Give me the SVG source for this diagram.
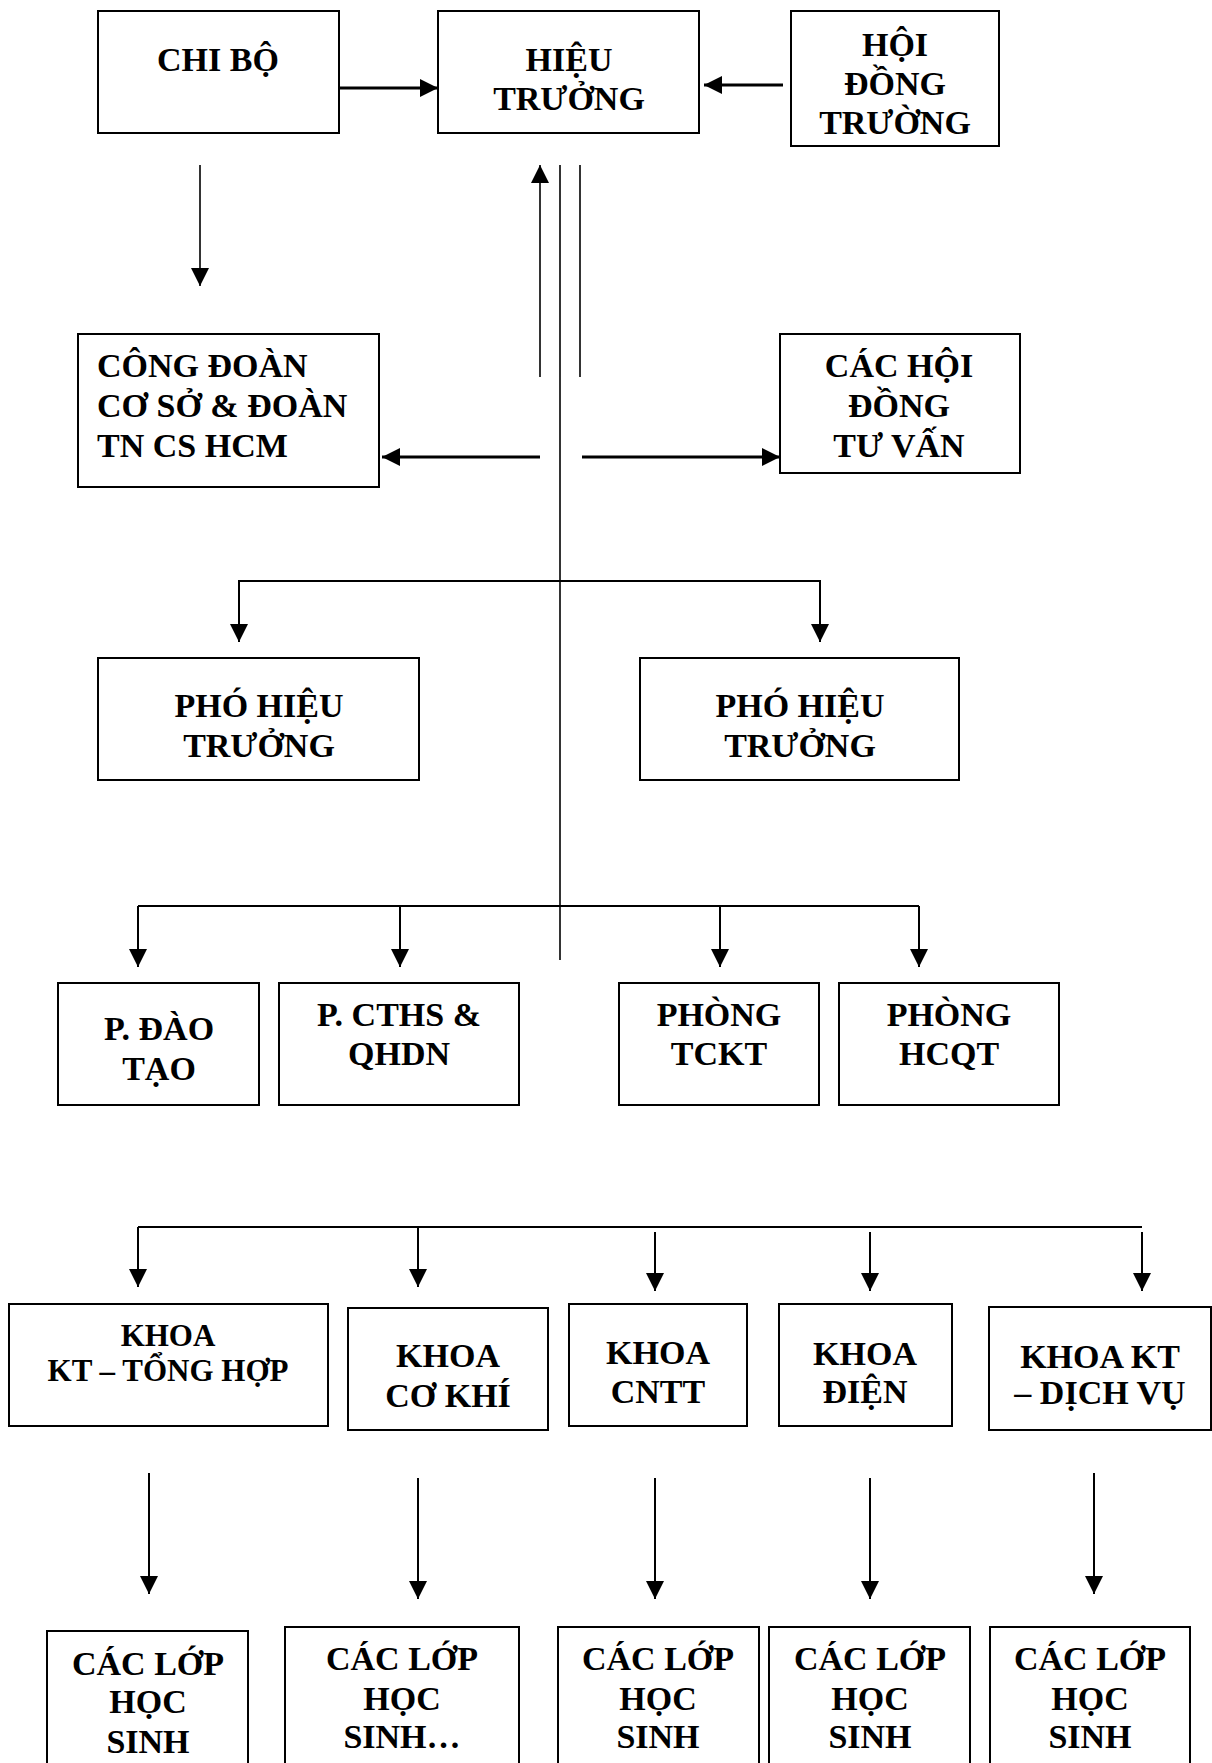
<svg xmlns="http://www.w3.org/2000/svg" width="1212" height="1763" viewBox="0 0 1212 1763">
<defs>
<style>
.box{fill:#fff;stroke:#000;stroke-width:2}
.t{font-family:"Liberation Serif","Times New Roman",serif;font-weight:bold;font-size:34px;fill:#000;text-anchor:middle}
.ts{font-size:31px}
.tl{text-anchor:start}
.ln{stroke:#000;stroke-width:2;fill:none}
.thin{stroke:#000;stroke-width:1.6;fill:none}
.thick{stroke:#000;stroke-width:3;fill:none}
</style>
<marker id="ah" markerUnits="userSpaceOnUse" markerWidth="18" markerHeight="18" viewBox="0 0 16 16" refX="16" refY="8" orient="auto">
<path d="M0,0 L16,8 L0,16 Z" fill="#000"/>
</marker>
</defs>
<rect width="1212" height="1763" fill="#fff"/>

<g id="connectors">
<line class="thick" x1="339" y1="88" x2="438" y2="88" marker-end="url(#ah)"/>
<line class="thick" x1="783" y1="85" x2="704" y2="85" marker-end="url(#ah)"/>
<line class="thin" x1="200" y1="165" x2="200" y2="286" marker-end="url(#ah)"/>
<line class="thin" x1="540" y1="377" x2="540" y2="165" marker-end="url(#ah)"/>
<line class="thin" x1="580" y1="165" x2="580" y2="377"/>
<line class="thin" x1="560" y1="165" x2="560" y2="960"/>
<line class="thick" x1="540" y1="457" x2="382" y2="457" marker-end="url(#ah)"/>
<line class="thick" x1="582" y1="457" x2="780" y2="457" marker-end="url(#ah)"/>
<polyline class="ln" points="239,642 239,581 820,581 820,642" marker-end="url(#ah)"/>
<line class="ln" x1="239" y1="581" x2="239" y2="642" marker-end="url(#ah)"/>
<polyline class="ln" points="138,906 919,906"/>
<line class="ln" x1="138" y1="906" x2="138" y2="967" marker-end="url(#ah)"/>
<line class="ln" x1="400" y1="906" x2="400" y2="967" marker-end="url(#ah)"/>
<line class="ln" x1="720" y1="906" x2="720" y2="967" marker-end="url(#ah)"/>
<line class="ln" x1="919" y1="906" x2="919" y2="967" marker-end="url(#ah)"/>
<line class="ln" x1="138" y1="1227" x2="1142" y2="1227"/>
<line class="ln" x1="138" y1="1227" x2="138" y2="1287" marker-end="url(#ah)"/>
<line class="ln" x1="418" y1="1227" x2="418" y2="1287" marker-end="url(#ah)"/>
<line class="ln" x1="655" y1="1232" x2="655" y2="1291" marker-end="url(#ah)"/>
<line class="ln" x1="870" y1="1232" x2="870" y2="1291" marker-end="url(#ah)"/>
<line class="ln" x1="1142" y1="1232" x2="1142" y2="1291" marker-end="url(#ah)"/>
<line class="ln" x1="149" y1="1473" x2="149" y2="1594" marker-end="url(#ah)"/>
<line class="ln" x1="418" y1="1478" x2="418" y2="1599" marker-end="url(#ah)"/>
<line class="ln" x1="655" y1="1478" x2="655" y2="1599" marker-end="url(#ah)"/>
<line class="ln" x1="870" y1="1478" x2="870" y2="1599" marker-end="url(#ah)"/>
<line class="ln" x1="1094" y1="1473" x2="1094" y2="1594" marker-end="url(#ah)"/>
</g>

<g id="chi-bo"><rect class="box" x="98" y="11" width="241" height="122"/>
<text class="t" x="218" y="71">CHI BỘ</text></g>

<g id="hieu-truong"><rect class="box" x="438" y="11" width="261" height="122"/>
<text class="t" x="569" y="71">HIỆU</text><text class="t" x="569" y="110">TRƯỞNG</text></g>

<g id="hoi-dong-truong"><rect class="box" x="791" y="11" width="208" height="135"/>
<text class="t" x="895" y="56">HỘI</text><text class="t" x="895" y="95">ĐỒNG</text><text class="t" x="895" y="134">TRƯỜNG</text></g>

<g id="cong-doan"><rect class="box" x="78" y="334" width="301" height="153"/>
<text class="t tl" x="97" y="377">CÔNG ĐOÀN</text><text class="t tl" x="97" y="417">CƠ SỞ &amp; ĐOÀN</text><text class="t tl" x="97" y="457">TN CS HCM</text></g>

<g id="cac-hoi-dong"><rect class="box" x="780" y="334" width="240" height="139"/>
<text class="t" x="899" y="377">CÁC HỘI</text><text class="t" x="899" y="417">ĐỒNG</text><text class="t" x="899" y="457">TƯ VẤN</text></g>

<g id="pho-ht-1"><rect class="box" x="98" y="658" width="321" height="122"/>
<text class="t" x="259" y="717">PHÓ HIỆU</text><text class="t" x="259" y="757">TRƯỞNG</text></g>

<g id="pho-ht-2"><rect class="box" x="640" y="658" width="319" height="122"/>
<text class="t" x="800" y="717">PHÓ HIỆU</text><text class="t" x="800" y="757">TRƯỞNG</text></g>

<g id="p-dao-tao"><rect class="box" x="58" y="983" width="201" height="122"/>
<text class="t" x="159" y="1040">P. ĐÀO</text><text class="t" x="159" y="1080">TẠO</text></g>

<g id="p-cths"><rect class="box" x="279" y="983" width="240" height="122"/>
<text class="t" x="399" y="1026">P. CTHS &amp;</text><text class="t" x="399" y="1065">QHDN</text></g>

<g id="phong-tckt"><rect class="box" x="619" y="983" width="200" height="122"/>
<text class="t" x="719" y="1026">PHÒNG</text><text class="t" x="719" y="1065">TCKT</text></g>

<g id="phong-hcqt"><rect class="box" x="839" y="983" width="220" height="122"/>
<text class="t" x="949" y="1026">PHÒNG</text><text class="t" x="949" y="1065">HCQT</text></g>

<g id="khoa-kt-tong-hop"><rect class="box" x="9" y="1304" width="319" height="122"/>
<text class="t ts" x="168" y="1346">KHOA</text><text class="t ts" x="168" y="1381">KT – TỔNG HỢP</text></g>

<g id="khoa-co-khi"><rect class="box" x="348" y="1308" width="200" height="122"/>
<text class="t" x="448" y="1367">KHOA</text><text class="t" x="448" y="1407">CƠ KHÍ</text></g>

<g id="khoa-cntt"><rect class="box" x="569" y="1304" width="178" height="122"/>
<text class="t" x="658" y="1364">KHOA</text><text class="t" x="658" y="1403">CNTT</text></g>

<g id="khoa-dien"><rect class="box" x="779" y="1304" width="173" height="122"/>
<text class="t" x="865" y="1365">KHOA</text><text class="t" x="865" y="1403">ĐIỆN</text></g>

<g id="khoa-kt-dich-vu"><rect class="box" x="989" y="1307" width="222" height="123"/>
<text class="t" x="1100" y="1368">KHOA KT</text><text class="t" x="1100" y="1404">– DỊCH VỤ</text></g>

<g id="lop-1"><rect class="box" x="47" y="1631" width="201" height="150"/>
<text class="t" x="148" y="1675">CÁC LỚP</text><text class="t" x="148" y="1713">HỌC</text><text class="t" x="148" y="1753">SINH</text></g>

<g id="lop-2"><rect class="box" x="285" y="1627" width="234" height="150"/>
<text class="t" x="402" y="1670">CÁC LỚP</text><text class="t" x="402" y="1710">HỌC</text><text class="t" x="402" y="1748">SINH…</text></g>

<g id="lop-3"><rect class="box" x="558" y="1627" width="201" height="150"/>
<text class="t" x="658" y="1670">CÁC LỚP</text><text class="t" x="658" y="1710">HỌC</text><text class="t" x="658" y="1748">SINH</text></g>

<g id="lop-4"><rect class="box" x="769" y="1627" width="201" height="150"/>
<text class="t" x="870" y="1670">CÁC LỚP</text><text class="t" x="870" y="1710">HỌC</text><text class="t" x="870" y="1748">SINH</text></g>

<g id="lop-5"><rect class="box" x="990" y="1627" width="200" height="150"/>
<text class="t" x="1090" y="1670">CÁC LỚP</text><text class="t" x="1090" y="1710">HỌC</text><text class="t" x="1090" y="1748">SINH</text></g>
</svg>
